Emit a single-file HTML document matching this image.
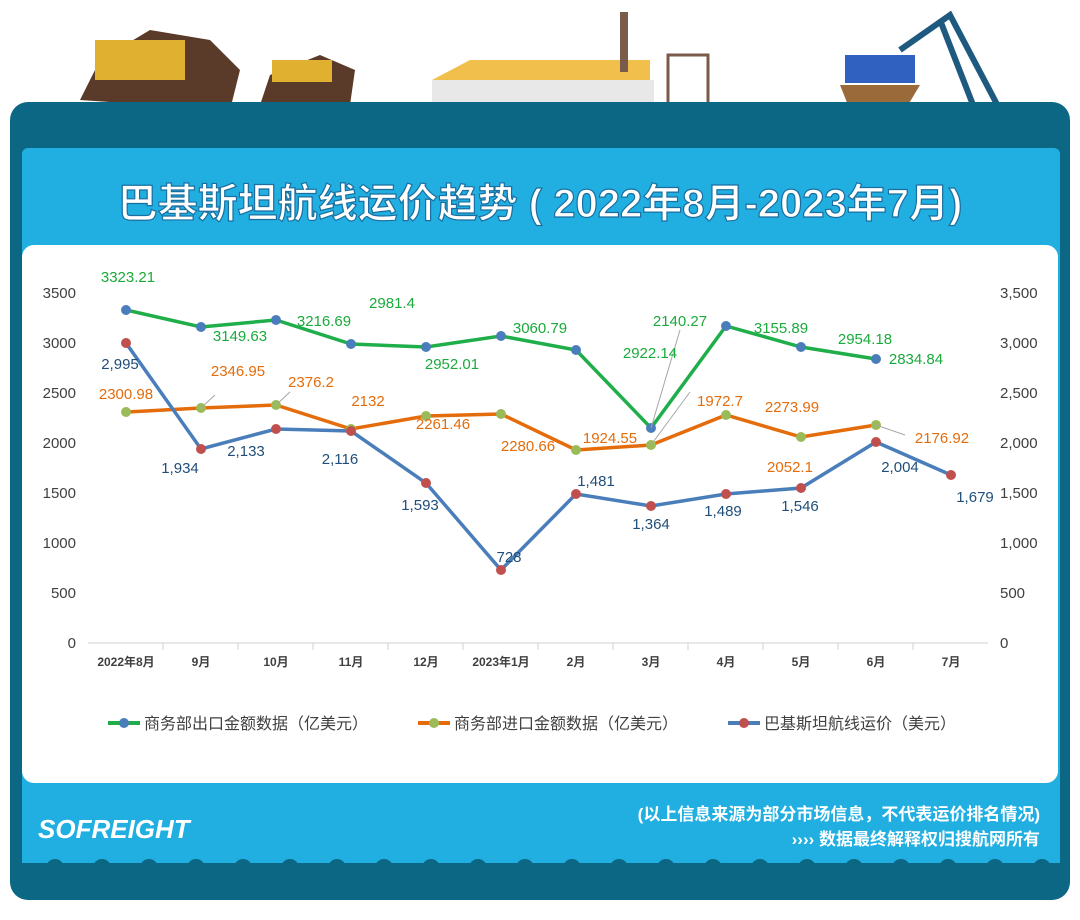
<!DOCTYPE html>
<html><head><meta charset="utf-8"><style>
body{margin:0;width:1080px;height:915px;background:#fff;overflow:hidden;font-family:"Liberation Sans","Noto Sans CJK SC",sans-serif}
</style></head><body>
<svg width="1080" height="915" xmlns="http://www.w3.org/2000/svg" font-family="Liberation Sans, Noto Sans CJK SC, sans-serif">
<!-- decorations -->
<path d="M80 100 L100 60 L150 30 L210 40 L240 70 L230 110 Z" fill="#5a3a28"/>
<rect x="95" y="40" width="90" height="40" fill="#e0b030"/>
<path d="M260 105 L270 75 L320 55 L355 70 L350 105 Z" fill="#5a3a28"/>
<rect x="272" y="60" width="60" height="22" fill="#e0b030"/>
<rect x="432" y="80" width="222" height="25" fill="#e8e8e8"/>
<path d="M432 80 L470 60 L650 60 L650 80 Z" fill="#f1c04c"/>
<rect x="620" y="12" width="8" height="60" fill="#7a5a4a"/>
<rect x="668" y="55" width="40" height="50" fill="none" stroke="#7a5a4a" stroke-width="3"/>
<path d="M840 85 L920 85 L905 110 L850 110 Z" fill="#9a6a3a"/>
<rect x="845" y="55" width="70" height="28" fill="#3060c0"/>
<path d="M900 50 L950 15 L1000 110 M940 20 L975 110" stroke="#1e5a80" stroke-width="6" fill="none"/>
<!-- frame -->
<rect x="10" y="102" width="1060" height="798" rx="18" fill="#0c6784"/>
<rect x="22" y="148" width="1038" height="722" rx="6" fill="#20afe0"/>
<rect x="22" y="863" width="1038" height="7" fill="#0c6784"/>
<g fill="#0c6784">
<circle cx="55" cy="868" r="9"/><circle cx="102" cy="868" r="9"/><circle cx="149" cy="868" r="9"/><circle cx="196" cy="868" r="9"/><circle cx="243" cy="868" r="9"/><circle cx="290" cy="868" r="9"/><circle cx="337" cy="868" r="9"/><circle cx="384" cy="868" r="9"/><circle cx="431" cy="868" r="9"/><circle cx="478" cy="868" r="9"/><circle cx="525" cy="868" r="9"/><circle cx="572" cy="868" r="9"/><circle cx="619" cy="868" r="9"/><circle cx="666" cy="868" r="9"/><circle cx="713" cy="868" r="9"/><circle cx="760" cy="868" r="9"/><circle cx="807" cy="868" r="9"/><circle cx="854" cy="868" r="9"/><circle cx="901" cy="868" r="9"/><circle cx="948" cy="868" r="9"/><circle cx="995" cy="868" r="9"/><circle cx="1042" cy="868" r="9"/>
</g>
<text x="540" y="217" text-anchor="middle" font-size="40" font-weight="bold" fill="#fff" stroke="#1a6fa0" stroke-width="1.2">巴基斯坦航线运价趋势 ( 2022年8月-2023年7月)</text>
<rect x="22" y="245" width="1036" height="538" rx="12" fill="#fff"/>
<!-- footer -->
<text x="38" y="838" font-size="26" font-weight="bold" font-style="italic" fill="#fff">SOFREIGHT</text>
<text x="1040" y="820" text-anchor="end" font-size="17" font-weight="bold" fill="#fff">(以上信息来源为部分市场信息，不代表运价排名情况)</text>
<text x="1040" y="845" text-anchor="end" font-size="17" font-weight="bold" fill="#fff">›››› 数据最终解释权归搜航网所有</text>
<!-- axes -->
<g font-size="15" fill="#404040">
<g text-anchor="end">
<text x="76" y="648">0</text><text x="76" y="598">500</text><text x="76" y="548">1000</text><text x="76" y="498">1500</text><text x="76" y="448">2000</text><text x="76" y="398">2500</text><text x="76" y="348">3000</text><text x="76" y="298">3500</text>
</g>
<text x="1000" y="648">0</text><text x="1000" y="598">500</text><text x="1000" y="548">1,000</text><text x="1000" y="498">1,500</text><text x="1000" y="448">2,000</text><text x="1000" y="398">2,500</text><text x="1000" y="348">3,000</text><text x="1000" y="298">3,500</text>
</g>
<line x1="88" y1="643" x2="988" y2="643" stroke="#d0d0d0"/>
<g stroke="#d0d0d0"><line x1="163" y1="643" x2="163" y2="650"/><line x1="238" y1="643" x2="238" y2="650"/><line x1="313" y1="643" x2="313" y2="650"/><line x1="388" y1="643" x2="388" y2="650"/><line x1="463" y1="643" x2="463" y2="650"/><line x1="538" y1="643" x2="538" y2="650"/><line x1="613" y1="643" x2="613" y2="650"/><line x1="688" y1="643" x2="688" y2="650"/><line x1="763" y1="643" x2="763" y2="650"/><line x1="838" y1="643" x2="838" y2="650"/><line x1="913" y1="643" x2="913" y2="650"/></g>
<g font-size="12" font-weight="bold" fill="#404040" text-anchor="middle">
<text x="126" y="666">2022年8月</text><text x="201" y="666">9月</text><text x="276" y="666">10月</text><text x="351" y="666">11月</text><text x="426" y="666">12月</text><text x="501" y="666">2023年1月</text><text x="576" y="666">2月</text><text x="651" y="666">3月</text><text x="726" y="666">4月</text><text x="801" y="666">5月</text><text x="876" y="666">6月</text><text x="951" y="666">7月</text>
</g>
<!-- series -->
<polyline fill="none" stroke="#1fae4a" stroke-width="3.5" points="126,310 201,327 276,320 351,344 426,347 501,336 576,350 651,428 726,326 801,347 876,359"/>
<polyline fill="none" stroke="#e46c0a" stroke-width="3.5" points="126,412 201,408 276,405 351,429 426,416 501,414 576,450 651,445 726,415 801,437 876,425"/>
<polyline fill="none" stroke="#4a7ebb" stroke-width="3.5" points="126,343 201,449 276,429 351,431 426,483 501,570 576,494 651,506 726,494 801,488 876,442 951,475"/>
<g fill="#4a7ebb"><circle cx="126" cy="310" r="5"/><circle cx="201" cy="327" r="5"/><circle cx="276" cy="320" r="5"/><circle cx="351" cy="344" r="5"/><circle cx="426" cy="347" r="5"/><circle cx="501" cy="336" r="5"/><circle cx="576" cy="350" r="5"/><circle cx="651" cy="428" r="5"/><circle cx="726" cy="326" r="5"/><circle cx="801" cy="347" r="5"/><circle cx="876" cy="359" r="5"/></g>
<g fill="#9bbb59"><circle cx="126" cy="412" r="5"/><circle cx="201" cy="408" r="5"/><circle cx="276" cy="405" r="5"/><circle cx="351" cy="429" r="5"/><circle cx="426" cy="416" r="5"/><circle cx="501" cy="414" r="5"/><circle cx="576" cy="450" r="5"/><circle cx="651" cy="445" r="5"/><circle cx="726" cy="415" r="5"/><circle cx="801" cy="437" r="5"/><circle cx="876" cy="425" r="5"/></g>
<g fill="#c0504d"><circle cx="126" cy="343" r="5"/><circle cx="201" cy="449" r="5"/><circle cx="276" cy="429" r="5"/><circle cx="351" cy="431" r="5"/><circle cx="426" cy="483" r="5"/><circle cx="501" cy="570" r="5"/><circle cx="576" cy="494" r="5"/><circle cx="651" cy="506" r="5"/><circle cx="726" cy="494" r="5"/><circle cx="801" cy="488" r="5"/><circle cx="876" cy="442" r="5"/><circle cx="951" cy="475" r="5"/></g>
<g stroke="#a6a6a6" fill="none"><line x1="651" y1="428" x2="680" y2="330"/><line x1="651" y1="445" x2="690" y2="392"/><line x1="276" y1="405" x2="290" y2="392"/><line x1="201" y1="408" x2="215" y2="395"/><line x1="876" y1="425" x2="905" y2="435"/></g>
<g font-size="15" text-anchor="middle" fill="#1aaa3c">
<text x="128" y="282">3323.21</text><text x="240" y="341">3149.63</text><text x="324" y="326">3216.69</text><text x="392" y="308">2981.4</text><text x="452" y="369">2952.01</text><text x="540" y="333">3060.79</text><text x="650" y="358">2922.14</text><text x="680" y="326">2140.27</text><text x="781" y="333">3155.89</text><text x="865" y="344">2954.18</text><text x="916" y="364">2834.84</text>
</g>
<g font-size="15" text-anchor="middle" fill="#e46c0a">
<text x="126" y="399">2300.98</text><text x="238" y="376">2346.95</text><text x="311" y="387">2376.2</text><text x="368" y="406">2132</text><text x="443" y="429">2261.46</text><text x="528" y="451">2280.66</text><text x="610" y="443">1924.55</text><text x="720" y="406">1972.7</text><text x="792" y="412">2273.99</text><text x="790" y="472">2052.1</text><text x="942" y="443">2176.92</text>
</g>
<g font-size="15" text-anchor="middle" fill="#1f4e79">
<text x="120" y="369">2,995</text><text x="180" y="473">1,934</text><text x="246" y="456">2,133</text><text x="340" y="464">2,116</text><text x="420" y="510">1,593</text><text x="509" y="562">728</text><text x="596" y="486">1,481</text><text x="651" y="529">1,364</text><text x="723" y="516">1,489</text><text x="800" y="511">1,546</text><text x="900" y="472">2,004</text><text x="975" y="502">1,679</text>
</g>
<!-- legend -->
<g font-size="16" fill="#404040">
<line x1="108" y1="723" x2="140" y2="723" stroke="#1fae4a" stroke-width="4"/><circle cx="124" cy="723" r="5" fill="#4a7ebb"/>
<text x="144" y="729">商务部出口金额数据（亿美元）</text>
<line x1="418" y1="723" x2="450" y2="723" stroke="#e46c0a" stroke-width="4"/><circle cx="434" cy="723" r="5" fill="#9bbb59"/>
<text x="454" y="729">商务部进口金额数据（亿美元）</text>
<line x1="728" y1="723" x2="760" y2="723" stroke="#4a7ebb" stroke-width="4"/><circle cx="744" cy="723" r="5" fill="#c0504d"/>
<text x="764" y="729">巴基斯坦航线运价（美元）</text>
</g>
</svg>
</body></html>
